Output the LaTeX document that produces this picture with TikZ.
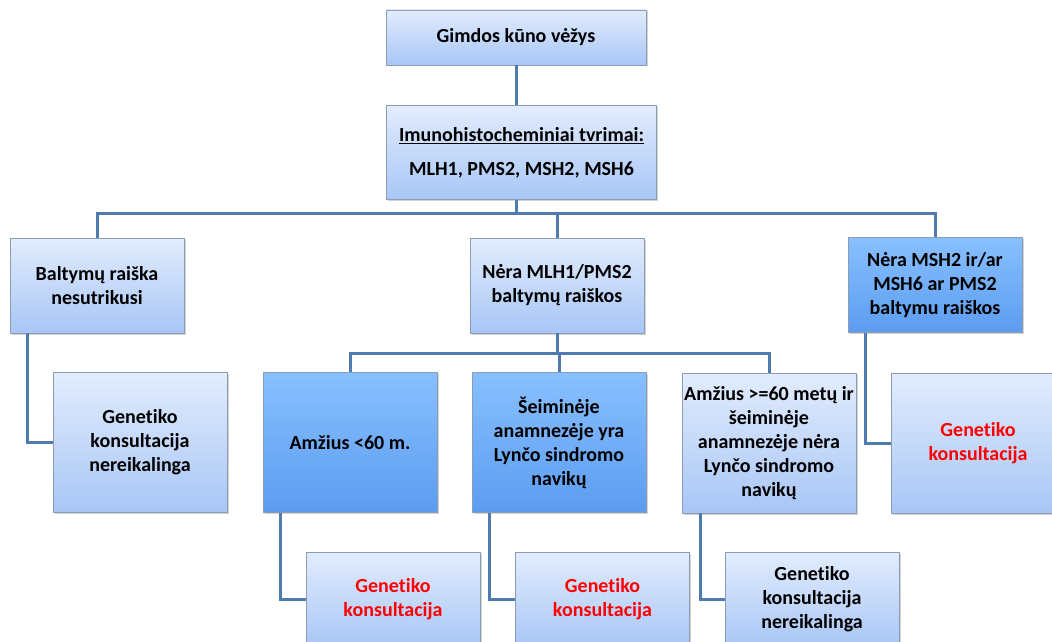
\documentclass[tikz,border=0pt]{standalone}
\usepackage{fontspec}
\setmainfont{Carlito}[Ligatures=NoCommon]
\usetikzlibrary{shadows}

\definecolor{lighttop}{RGB}{226,236,253}
\definecolor{lightbot}{RGB}{168,198,246}
\definecolor{darktop}{RGB}{136,192,255}
\definecolor{darkbot}{RGB}{92,156,240}
\definecolor{boxline}{RGB}{140,156,178}
\definecolor{linkblue}{RGB}{79,123,176}
\definecolor{alertred}{RGB}{255,0,0}

\begin{document}
\begin{tikzpicture}[
    x=1pt, y=-1pt,
    box/.style={draw=boxline, line width=0.8pt, top color=lighttop, bottom color=lightbot,
        minimum width=174pt, minimum height=95pt, align=center, inner sep=2pt,
        font=\fontsize{20}{24}\selectfont\bfseries,
        drop shadow={shadow xshift=1.5pt, shadow yshift=-1.5pt, opacity=0.35}},
    darkbox/.style={box, top color=darktop, bottom color=darkbot},
    tallbox/.style={minimum height=140pt},
    link/.style={draw=linkblue, line width=3pt},
    alert/.style={text=alertred}
]
\useasboundingbox (0,0) rectangle (1052,642);

% Top of the tree
\node[box, minimum width=260pt, minimum height=55pt] (root) at (516,37.5) {Gimdos kūno vėžys};
\node[box, minimum width=270pt, minimum height=94pt] (imuno) at (521.5,152.5)
    {\underline{Imunohistocheminiai tvrimai:}\\[10pt] MLH1, PMS2, MSH2, MSH6};

% Second level
\node[box] (bal) at (97,285.5) {Baltymų raiška\\ nesutrikusi};
\node[box] (nera) at (557,285.5) {Nėra MLH1/PMS2\\ baltymų raiškos};
\node[darkbox] (msh) at (935,285) {Nėra MSH2 ir/ar\\ MSH6 ar PMS2\\ baltymu raiškos};

% Third level
\node[box, tallbox] (gen1) at (140,442.5) {Genetiko\\ konsultacija\\ nereikalinga};
\node[darkbox, tallbox] (amz) at (350,442.5) {Amžius <60 m.};
\node[darkbox, tallbox] (seim) at (559,442.5) {Šeiminėje\\ anamnezėje yra\\ Lynčo sindromo\\ navikų};
\node[box, tallbox] (amz60) at (769,443) {Amžius >=60 metų ir\\ šeiminėje\\ anamnezėje nėra\\ Lynčo sindromo\\ navikų};
\node[box, tallbox, alert] (gen2) at (978,443) {Genetiko\\ konsultacija};

% Fourth level
\node[box, alert] (gen3) at (393,599.5) {Genetiko\\ konsultacija};
\node[box, alert] (gen4) at (602.5,599.5) {Genetiko\\ konsultacija};
\node[box] (gen5) at (812,599.5) {Genetiko\\ konsultacija\\ nereikalinga};

% Branch points
\coordinate (bar) at (516,213);
\coordinate (bar2) at (557,353);

% Connectors
\draw[link] (root.south) -- (root.south |- imuno.north);
\draw[link] (bar |- imuno.south) -- (bar);
\draw[link] (bar) -| (bal.north);
\draw[link] (bar) -| (nera.north);
\draw[link] (bar) -| (msh.north);
\draw[link] (nera.south) -- (bar2);
\draw[link] (bar2) -| (amz.north);
\draw[link] (bar2) -| (seim.north);
\draw[link] (bar2) -| (amz60.north);
\draw[link] ([xshift=18pt]bal.south west) |- (gen1.west);
\draw[link] ([xshift=18pt]msh.south west) |- (gen2.west);
\draw[link] ([xshift=18pt]amz.south west) |- (gen3.west);
\draw[link] ([xshift=18pt]seim.south west) |- (gen4.west);
\draw[link] ([xshift=19pt]amz60.south west) |- (gen5.west);

\end{tikzpicture}
\end{document}
